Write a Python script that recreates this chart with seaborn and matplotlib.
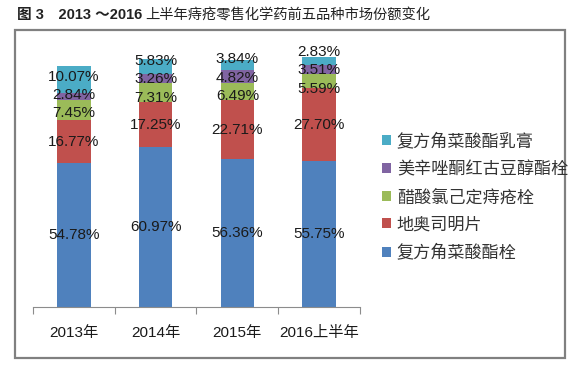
import numpy as np
import pandas as pd
import matplotlib
matplotlib.use('Agg')
import matplotlib.pyplot as plt
from matplotlib.patches import Rectangle, Patch
import seaborn as sns

# data (market share, %)
years = ['2013年', '2014年', '2015年', '2016上半年']
series_names = ['复方角菜酸酯栓', '地奥司明片', '醋酸氯己定痔疮栓', '美辛唑酮红古豆醇酯栓', '复方角菜酸酯乳膏']
share_suppository = [54.78, 60.97, 56.36, 55.75]
share_diosmin = [16.77, 17.25, 22.71, 27.70]
share_chlorhexidine = [7.45, 7.31, 6.49, 5.59]
share_meixin = [2.84, 3.26, 4.82, 3.51]
share_cream = [10.07, 5.83, 3.84, 2.83]
colors = ['#4F81BD', '#C0504D', '#9BBB59', '#8064A2', '#4BACC6']

sns.set_style('white')
plt.rcParams['font.family'] = ['Liberation Sans', 'Noto Sans CJK SC', 'DejaVu Sans']

values = [share_suppository, share_diosmin, share_chlorhexidine, share_meixin, share_cream]
df = pd.DataFrame({name: v for name, v in zip(series_names, values)}, index=years)
cum = df.cumsum(axis=1)


def spread_labels(pos, gap):
    # push apart label positions that are closer than gap, keeping clusters centred
    pos = list(pos)
    for _ in range(50):
        groups = [[0]]
        for k in range(1, len(pos)):
            if pos[k] - pos[groups[-1][-1]] < gap - 1e-9:
                groups[-1].append(k)
            else:
                groups.append([k])
        new = pos[:]
        for g in groups:
            if len(g) > 1:
                m = np.mean([pos[k] for k in g])
                for j, k in enumerate(g):
                    new[k] = m + (j - (len(g) - 1) / 2) * gap
        if np.allclose(new, pos):
            break
        pos = new
    return pos


fig = plt.figure(figsize=(5.86, 3.73), dpi=100)
ax = fig.add_axes([33 / 586, 66 / 373, 327 / 586, 262 / 373])

# stacked bars: draw cumulative totals from the top series down
for name, color in reversed(list(zip(series_names, colors))):
    sns.barplot(x=years, y=cum[name].values, color=color, width=0.41,
                saturation=1, linewidth=0, ax=ax, zorder=2)

# data labels centred in each segment, nudged apart where they crowd
for i, yr in enumerate(years):
    mids = [cum.loc[yr, n] - df.loc[yr, n] / 2 for n in series_names]
    ys = spread_labels(mids, 7.0)
    for n, y in zip(series_names, ys):
        ax.text(i, y, f'{df.loc[yr, n]:.2f}%', ha='center', va='center',
                fontsize=11, color='#1a1a1a', zorder=3)

ax.set_xlim(-0.5, 3.5)
ax.set_ylim(0, 100)
ax.set_yticks([])
ax.set_ylabel('')
for s in ['top', 'right', 'left']:
    ax.spines[s].set_visible(False)
ax.spines['bottom'].set_color('#8c8c8c')
ax.spines['bottom'].set_linewidth(0.8)
ax.set_xticks(range(len(years)))
ax.set_xticklabels(years, fontsize=11, color='#1a1a1a')
ax.set_xticks(np.arange(-0.5, 4, 1), minor=True)
ax.tick_params(axis='x', which='major', length=0, pad=14)
ax.tick_params(axis='x', which='minor', length=5, width=0.8, color='#8c8c8c', direction='out', bottom=True)

# legend, top series first
handles = [Patch(facecolor=c, edgecolor='none') for c in reversed(colors)]
fig.legend(handles, list(reversed(series_names)), loc='upper left',
           bbox_to_anchor=(367 / 586, 1 - 117 / 373), frameon=False,
           fontsize=12.3, handlelength=0.5, handleheight=0.5, handletextpad=0.35,
           labelspacing=0.68, labelcolor='#333333')

# outer frame
fig.patches.append(Rectangle((15 / 586, 1 - 358 / 373), 550 / 586, 328 / 373,
                             transform=fig.transFigure, fill=False,
                             edgecolor='#808080', linewidth=1.6))

# title
fig.text(17 / 586, 1 - 15 / 373, '图 3　2013 ～2016', fontsize=10.5, fontweight='bold',
         va='center', ha='left', color='#222222')
fig.text(145 / 586, 1 - 15 / 373, '上半年痔疮零售化学药前五品种市场份额变化', fontsize=10.3,
         va='center', ha='left', color='#222222')

fig.savefig('out.png', dpi=100, facecolor='white')
